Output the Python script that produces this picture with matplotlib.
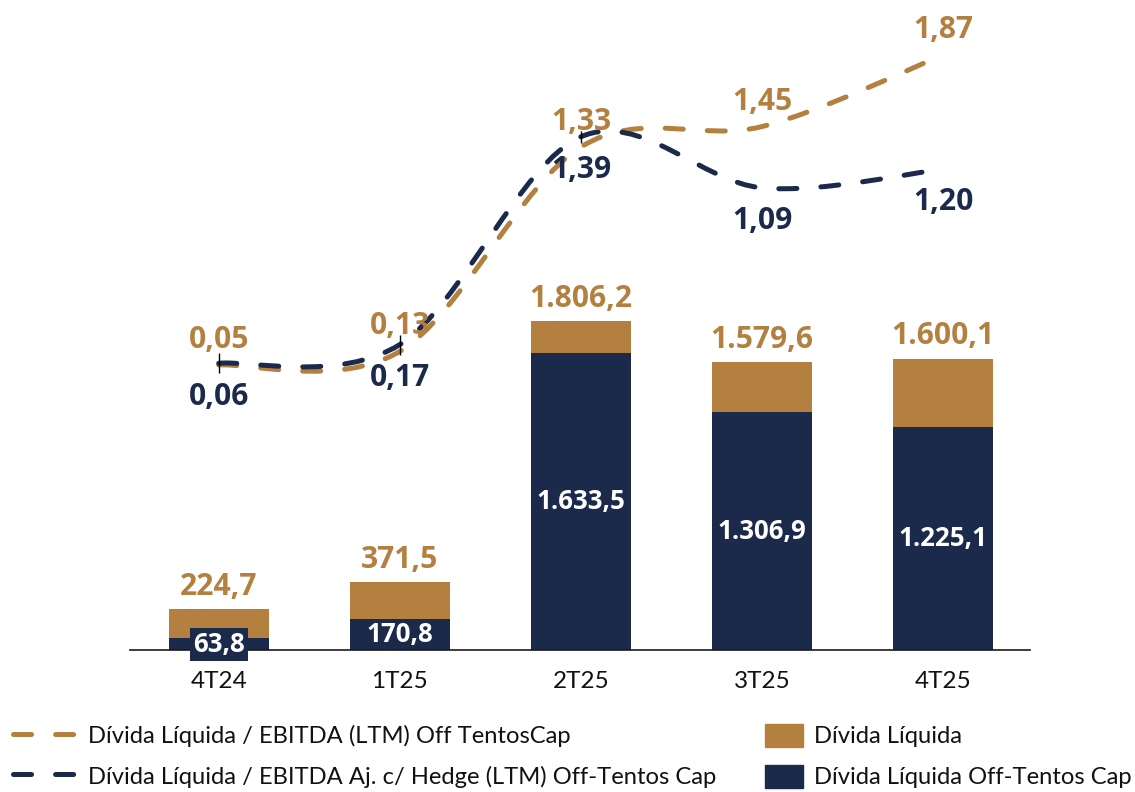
import matplotlib
matplotlib.use("Agg")
import matplotlib.pyplot as plt
from matplotlib.path import Path
from matplotlib.patches import PathPatch, Patch
from matplotlib.lines import Line2D
from matplotlib import font_manager as fm
import numpy as np

# ---------------- data ----------------
categories = ["4T24", "1T25", "2T25", "3T25", "4T25"]
divida_liquida = [224.7, 371.5, 1806.2, 1579.6, 1600.1]
divida_off_tentos = [63.8, 170.8, 1633.5, 1306.9, 1225.1]
ratio_off_tentoscap = [0.05, 0.13, 1.33, 1.45, 1.87]
ratio_aj_hedge = [0.06, 0.17, 1.39, 1.09, 1.20]

total_labels = ["224,7", "371,5", "1.806,2", "1.579,6", "1.600,1"]
off_labels = ["63,8", "170,8", "1.633,5", "1.306,9", "1.225,1"]
ratio1_labels = ["0,05", "0,13", "1,33", "1,45", "1,87"]
ratio2_labels = ["0,06", "0,17", "1,39", "1,09", "1,20"]

legend_line1 = "Dívida Líquida / EBITDA (LTM) Off TentosCap"
legend_line2 = "Dívida Líquida / EBITDA Aj. c/ Hedge (LTM) Off-Tentos Cap"
legend_bar1 = "Dívida Líquida"
legend_bar2 = "Dívida Líquida Off-Tentos Cap"

GOLD = "#B48040"
NAVY = "#1B2A4B"

plt.rcParams["lines.scale_dashes"] = False

avail = {f.name for f in fm.fontManager.ttflist}
NARROW = "Lato" if "Lato" in avail else "Liberation Sans"
LABELF = "Open Sans" if "Open Sans" in avail else "DejaVu Sans"

W, H = 1135, 792
fig = plt.figure(figsize=(W / 100, H / 100), dpi=100)

def fx(px):
    return px / W

def fy(py):
    return 1 - py / H

ax = fig.add_axes([fx(130), fy(650), fx(1030) - fx(130), fy(30) - fy(650)])
ax2 = ax.twinx()
ax.set_zorder(1)
ax2.set_zorder(2)
ax.patch.set_visible(False)
ax2.patch.set_visible(False)

x = np.arange(len(categories))
bw = 0.553

gold_part = [t - o for t, o in zip(divida_liquida, divida_off_tentos)]
ax.bar(x, divida_off_tentos, bw, color=NAVY, zorder=2)
ax.bar(x, gold_part, bw, bottom=divida_off_tentos, color=GOLD, zorder=2)

ax.set_xlim(-0.49, 4.48)
ax.set_ylim(0, 3405)
ax2.set_ylim(-1.6236, 2.0170)

for a in (ax, ax2):
    for s in ("top", "right", "left"):
        a.spines[s].set_visible(False)
    a.set_yticks([])
ax2.spines["bottom"].set_visible(False)
ax.spines["bottom"].set_color("#1a1a1a")
ax.spines["bottom"].set_linewidth(1.2)

ax.set_xticks(x)
ax.set_xticklabels(categories, fontsize=17.5, family=NARROW, color="#111111")
ax.tick_params(axis="x", length=0, pad=15)
ax2.tick_params(axis="x", length=0, labelbottom=False)

# bar labels
for xi, tot, off, tl, ol in zip(x, divida_liquida, divida_off_tentos, total_labels, off_labels):
    ax.annotate(tl, (xi, tot), xytext=(0, 16), textcoords="offset points",
                ha="center", va="center", fontsize=21.6, fontweight="bold",
                family=LABELF, color=GOLD, zorder=5)
    small = off < 100
    ax.text(xi, off / 2, ol, ha="center", va="center", fontsize=18.6,
            fontweight="bold", family=LABELF, color="white", zorder=5,
            bbox=dict(boxstyle="square,pad=0.12", fc=NAVY, ec="none") if small else None)

# smooth line via Catmull-Rom -> Bezier
def smooth_path(xs, ys):
    pts = np.column_stack([xs, ys]).astype(float)
    n = len(pts)
    verts = [pts[0]]
    codes = [Path.MOVETO]
    for i in range(n - 1):
        p0 = pts[i - 1] if i > 0 else pts[i]
        p1 = pts[i]
        p2 = pts[i + 1]
        p3 = pts[i + 2] if i + 2 < n else pts[i + 1]
        c1 = p1 + (p2 - p0) / 6.0
        c2 = p2 - (p3 - p1) / 6.0
        verts += [c1, c2, p2]
        codes += [Path.CURVE4] * 3
    return Path(verts, codes)

dash = (0, (13.0, 17.3))
LW = 3.6
for ys, col in ((ratio_off_tentoscap, GOLD), (ratio_aj_hedge, NAVY)):
    pp = PathPatch(smooth_path(x, ys), fill=False, edgecolor=col, lw=LW,
                   linestyle=dash, capstyle="round", zorder=3)
    ax2.add_patch(pp)

# small tick marks on first three points
ax2.plot(x[:2], ratio_aj_hedge[:2], linestyle="none", marker="|", markersize=14,
         markeredgewidth=1.0, color="black", zorder=4)
ax2.plot(x[2:3], ratio_aj_hedge[2:3], linestyle="none", marker="|", markersize=8,
         markeredgewidth=1.0, color="black", zorder=4)

for xi, v, lab in zip(x, ratio_off_tentoscap, ratio1_labels):
    ax2.annotate(lab, (xi, v), xytext=(0, 18.0), textcoords="offset points",
                 ha="center", va="center", fontsize=21.6, fontweight="bold",
                 family=LABELF, color=GOLD, zorder=6)
for xi, v, lab in zip(x, ratio_aj_hedge, ratio2_labels):
    ax2.annotate(lab, (xi, v), xytext=(0, -24.0), textcoords="offset points",
                 ha="center", va="center", fontsize=21.6, fontweight="bold",
                 family=LABELF, color=NAVY, zorder=6)

# legends
FS = 17.1
fs_px = FS / 0.72
h_lines = [Line2D([], [], color=GOLD, lw=LW, linestyle=dash, dash_capstyle="round"),
           Line2D([], [], color=NAVY, lw=LW, linestyle=dash, dash_capstyle="round")]
leg1 = fig.legend(h_lines, [legend_line1, legend_line2], loc="center left",
                  bbox_to_anchor=(fx(13), fy(756)), frameon=False, borderpad=0,
                  borderaxespad=0, handlelength=66 / fs_px, handletextpad=9 / fs_px,
                  handleheight=1.15, labelspacing=0.72,
                  prop={"family": NARROW, "size": FS})
h_bars = [Patch(color=GOLD), Patch(color=NAVY)]
leg2 = fig.legend(h_bars, [legend_bar1, legend_bar2], loc="center left",
                  bbox_to_anchor=(fx(765), fy(756)), frameon=False, borderpad=0,
                  borderaxespad=0, handlelength=38 / fs_px, handletextpad=11 / fs_px,
                  handleheight=1.15, labelspacing=0.72,
                  prop={"family": NARROW, "size": FS})
for t in leg1.get_texts() + leg2.get_texts():
    t.set_color("#111111")

fig.savefig("out.png", dpi=100)
